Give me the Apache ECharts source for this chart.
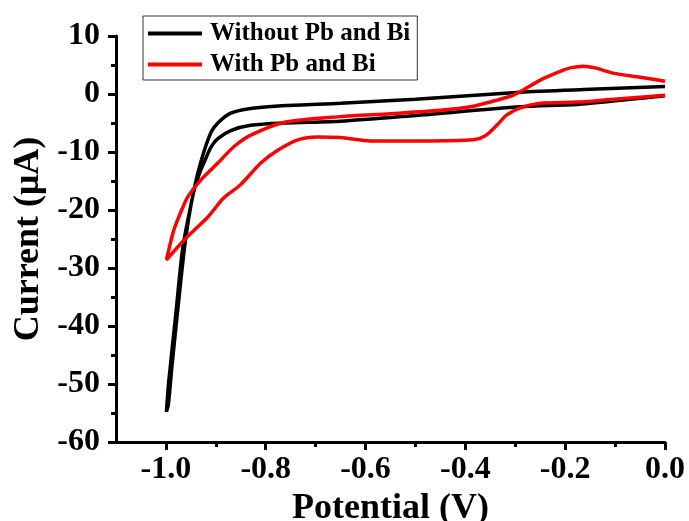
<!DOCTYPE html>
<html>
<head>
<meta charset="utf-8">
<script src="https://cdn.jsdelivr.net/npm/echarts@6/dist/echarts.min.js"></script>
<style>
  html, body { margin: 0; padding: 0; background: #fff; }
  #chart { width: 689px; height: 521px; }
</style>
</head>
<body>
<div id="chart"></div>
<script>
// Without Pb and Bi: potential (V) and current (uA), loop starts at 0.0 V
const blackV = [0.0, -0.15, -0.29, -0.5, -0.65, -0.76, -0.83, -0.87, -0.896, -0.91, -0.924, -0.936, -0.946, -0.966, -0.98, -0.994, -0.999,
  -0.995, -0.988, -0.976, -0.962, -0.946, -0.932, -0.922, -0.91, -0.896, -0.87, -0.83, -0.76, -0.65, -0.5, -0.29, -0.176, -0.08, 0.0];
const blackI = [1.3, 0.8, 0.3, -0.9, -1.6, -2.0, -2.5, -3.3, -5.0, -6.7, -10.0, -13.6, -17.5, -26.4, -37.8, -49.3, -54.8,
  -53.5, -47, -37, -26, -17.5, -13.5, -11.5, -9.2, -7.7, -6.3, -5.4, -5.0, -4.7, -3.7, -2.2, -1.8, -1.0, -0.3];

// With Pb and Bi
const redV = [0.0, -0.05, -0.104, -0.14, -0.164, -0.19, -0.204, -0.25, -0.284, -0.304, -0.33, -0.39, -0.45, -0.55, -0.65, -0.764, -0.83, -0.864, -0.896, -0.93, -0.956, -0.966, -0.984, -0.999,
  -0.964, -0.916, -0.884, -0.85, -0.81, -0.776, -0.736, -0.696, -0.65, -0.59, -0.49, -0.384, -0.36, -0.336, -0.317, -0.29, -0.25, -0.176, -0.116, 0.0];
const redI = [2.2, 2.9, 3.6, 4.5, 4.8, 4.5, 4.1, 2.4, 0.7, -0.2, -0.9, -2.2, -2.8, -3.4, -3.9, -4.9, -7.1, -9.1, -11.9, -14.8, -17.7, -19.5, -23.4, -28.6,
  -25.2, -21.2, -17.9, -15.6, -11.9, -9.7, -7.9, -7.4, -7.5, -8.1, -8.1, -7.9, -7.2, -5.3, -3.6, -2.4, -1.6, -1.4, -1.0, -0.2];

const xMajor = [-1.0, -0.8, -0.6, -0.4, -0.2, 0.0];
const xMinor = [-0.9, -0.7, -0.5, -0.3, -0.1];

const font = 'Liberation Serif';
const chart = echarts.init(document.getElementById('chart'));

const pairs = (xs, ys) => xs.map((x, i) => [x, ys[i]]);

const option = {
  animation: false,
  grid: { left: 116, right: 24, top: 36, bottom: 79, outerBoundsMode: 'none', containLabel: false },
  legend: {
    orient: 'vertical',
    left: 143,
    top: 16,
    padding: [5, 7, 3, 5],
    itemGap: 6,
    itemWidth: 54,
    itemHeight: 4,
    icon: 'rect',
    borderColor: '#333',
    borderWidth: 1,
    borderRadius: 0,
    textStyle: { fontFamily: font, fontWeight: 'bold', fontSize: 25, color: '#000', lineHeight: 24, padding: [0, 0, 0, 3] },
    data: ['Without Pb and Bi', 'With Pb and Bi']
  },
  xAxis: [
    {
      type: 'value',
      min: -1.1,
      max: 0,
      name: 'Potential (V)',
      nameLocation: 'middle',
      nameGap: 43,
      nameTextStyle: { fontFamily: font, fontWeight: 'bold', fontSize: 36, color: '#000' },
      axisLine: { onZero: false, lineStyle: { color: '#000', width: 3 } },
      axisTick: { customValues: xMajor, length: 8, lineStyle: { color: '#000', width: 3 } },
      axisLabel: {
        customValues: xMajor,
        margin: 12,
        fontFamily: font, fontWeight: 'bold', fontSize: 32, color: '#000',
        formatter: (v) => v.toFixed(1)
      },
      splitLine: { show: false }
    },
    {
      type: 'value',
      position: 'bottom',
      min: -1.1,
      max: 0,
      axisLine: { show: false, onZero: false },
      axisTick: { customValues: xMinor, length: 5, lineStyle: { color: '#000', width: 3 } },
      axisLabel: { show: false },
      splitLine: { show: false }
    }
  ],
  yAxis: {
    type: 'value',
    min: -60,
    max: 10,
    interval: 10,
    name: 'Current (μA)',
    nameLocation: 'middle',
    nameGap: 68,
    nameTextStyle: { fontFamily: font, fontWeight: 'bold', fontSize: 36, color: '#000' },
    axisLine: { show: true, onZero: false, lineStyle: { color: '#000', width: 3 } },
    axisTick: { show: true, length: 8, lineStyle: { color: '#000', width: 3 } },
    minorTick: { show: true, splitNumber: 2, length: 5, lineStyle: { color: '#000', width: 3 } },
    axisLabel: { margin: 16, fontFamily: font, fontWeight: 'bold', fontSize: 32, color: '#000' },
    splitLine: { show: false }
  },
  series: [
    {
      name: 'Without Pb and Bi',
      type: 'line',
      data: pairs(blackV, blackI),
      showSymbol: false,
      symbol: 'none',
      smooth: 0.25,
      lineStyle: { color: '#000', width: 3.5 },
      itemStyle: { color: '#000' }
    },
    {
      name: 'With Pb and Bi',
      type: 'line',
      data: pairs(redV, redI),
      showSymbol: false,
      symbol: 'none',
      smooth: 0.25,
      lineStyle: { color: '#ff0000', width: 3.5 },
      itemStyle: { color: '#ff0000' }
    }
  ]
};

chart.setOption(option);
</script>
</body>
</html>
